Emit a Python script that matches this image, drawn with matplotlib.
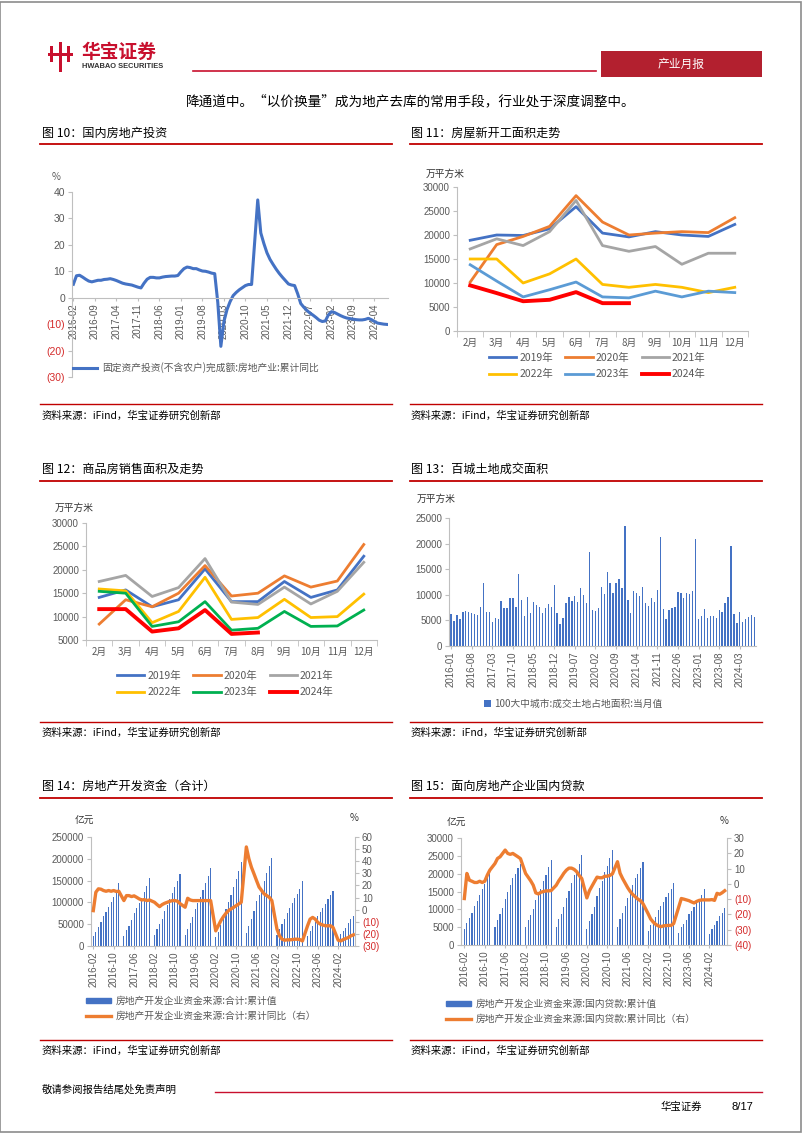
import numpy as np
import matplotlib
matplotlib.use("Agg")
import matplotlib.pyplot as plt
from matplotlib.lines import Line2D
from matplotlib.patches import Rectangle, Patch

plt.rcParams['font.family'] = ['Liberation Sans', 'Noto Sans CJK SC', 'DejaVu Sans']
plt.rcParams['axes.unicode_minus'] = False

W, H = 802, 1133
RED = '#C00000'
NEG = '#D42A2A'
GRAY = '#595959'
AXC = '#BFBFBF'
BLUE = '#4472C4'
ORANGE = '#ED7D31'
CJK = ['Noto Sans CJK SC', 'DejaVu Sans']
nan = np.nan

# ---------------- data ----------------
# fig 10: 2016-02 .. 2024-08 monthly, cumulative yoy %
inv_yoy = [5.1, 8.3, 8.5, 7.8, 7.0, 6.3, 6.0, 6.3, 6.6, 6.6, 6.9,
           7.0, 7.2, 6.9, 6.5, 6.0, 5.5, 5.2, 5.0, 4.8, 4.4, 4.0, 3.7,
           5.5, 7.0, 7.7, 7.7, 7.5, 7.5, 7.8, 8.0, 8.1, 8.2, 8.2, 8.4,
           9.8, 11.0, 11.6, 11.4, 11.0, 11.0, 10.5, 10.1, 10.0, 9.7, 9.3, 9.1,
           -1.8, -18.4, -9.0, -4.5, -1.5, 0.8, 2.0, 3.0, 3.8, 4.6, 5.0, 5.0,
           21.0, 37.0, 24.5, 20.5, 17.0, 14.5, 12.6, 10.8, 9.2, 7.8, 6.5, 5.2,
           4.8, 4.6, 1.5, -2.2, -3.6, -4.8, -5.8, -6.6, -7.5, -8.5, -9.0, -8.8,
           -6.5, -5.3, -5.6, -6.2, -6.8, -7.3, -7.7, -7.9, -8.1, -8.3, -8.4, -8.4,
           -8.2, -7.8, -8.3, -9.0, -9.6, -9.8, -10.0, -10.1]

# fig 11 / 12: months Feb..Dec
month_cats = ['2月', '3月', '4月', '5月', '6月', '7月', '8月', '9月', '10月', '11月', '12月']
year_names = ['2019年', '2020年', '2021年', '2022年', '2023年', '2024年']

starts_2019 = [18900, 20000, 19900, 21300, 25900, 20400, 19600, 20700, 20000, 19700, 22200]
starts_2020 = [10200, 18000, 19700, 21800, 28200, 22700, 20000, 20400, 20700, 20500, 23600]
starts_2021 = [17100, 19200, 17800, 20700, 27200, 17800, 16600, 17600, 13900, 16200, 16200]
starts_2022 = [15000, 15000, 10000, 11900, 15000, 9700, 9100, 9700, 9100, 8000, 9100]
starts_2023 = [13800, 10400, 7100, 8600, 10200, 7100, 6900, 8300, 7100, 8300, 8000]
starts_2024 = [9500, 7900, 6200, 6500, 8100, 5800, 5800]

sales_2019 = [14100, 15700, 12100, 13600, 20200, 13200, 13200, 17500, 14100, 15700, 22900]
sales_2020 = [8400, 13600, 12100, 15000, 20900, 14400, 15000, 18700, 16300, 17600, 25400]
sales_2021 = [17500, 18800, 14300, 16200, 22400, 13100, 12600, 16300, 12700, 15400, 21600]
sales_2022 = [15900, 15500, 8700, 11100, 18400, 9400, 9800, 13700, 9800, 10000, 14800]
sales_2023 = [15400, 15000, 7900, 8900, 13200, 7100, 7500, 11100, 7900, 8000, 11400]
sales_2024 = [11600, 11600, 6800, 7500, 11400, 6300, 6600]

# fig 13: 2016-01 .. 2024-08 monthly land area
land_area = [6200, 4960, 6070, 5290, 6590, 6920, 6720, 6400, 6270, 6070, 7570, 12400,
             6590, 6590, 4760, 5420, 5290, 8810, 7380, 7380, 9330, 9330, 7700, 14100,
             9010, 5870, 9530, 6400, 8680, 8030, 7700, 6400, 7510, 8160, 7700, 11940,
             6460, 4240, 5550, 8350, 9660, 8810, 9790, 8550, 11290, 9990, 8490, 18400,
             7050, 6920, 7510, 11550, 10120, 14490, 12270, 10310, 12270, 13050, 11420, 23370,
             9010, 6400, 10770, 10310, 9860, 11490, 8490, 7830, 9330, 8680, 10970, 21280,
             7180, 5290, 7050, 7380, 7570, 10640, 10440, 9330, 10440, 10120, 10830, 20950,
             5290, 5870, 7180, 5420, 5870, 5870, 5420, 7050, 6720, 8490, 9530, 19580,
             6200, 4570, 6720, 4630, 5290, 5740, 6070, 5740]

# fig 14: 2016-02 .. 2024-08, January not published
fund_total = [23000, 32000, 43000, 54000, 68000, 79000, 90000, 101000, 113000, 126000, 144000,
              nan, 24000, 36000, 47000, 59000, 76000, 87000, 98000, 111000, 124000, 137000, 156000,
              nan, 25000, 38000, 50000, 63000, 81000, 93000, 107000, 121000, 135000, 148000, 166000,
              nan, 25000, 39000, 52000, 67000, 85000, 99000, 113000, 129000, 145000, 160000, 179000,
              nan, 20000, 33000, 49000, 65000, 85000, 102000, 118000, 136000, 154000, 171000, 193000,
              nan, 30000, 47000, 63000, 81000, 103000, 118000, 133000, 150000, 167000, 183000, 201000,
              nan, 25000, 38000, 50000, 61000, 76000, 87000, 98000, 109000, 120000, 131000, 149000,
              nan, 23000, 35000, 45000, 55000, 68000, 78000, 87000, 97000, 107000, 116000, 127000,
              nan, 18000, 27000, 35000, 42000, 52000, 61000, 69000]
fund_yoy = [-0.8, 14.4, 17.2, 16.9, 15.8, 15.2, 15.8, 15.2, 15.8, 15.0, 15.2,
            nan, 7.5, 11.6, 11.6, 10.8, 11.4, 10.2, 8.9, 8.0, 8.3, 7.5, 8.0,
            nan, 6.1, 4.2, 2.5, 4.2, 5.3, 6.1, 6.9, 7.5, 7.5, 7.0, 5.0,
            nan, 2.0, 9.4, 8.0, 7.5, 7.5, 7.5, 7.5, 7.5, 7.5, 7.5, 7.5,
            nan, -17.5, -13.3, -9.1, -5.8, -3.0, -0.8, 0.6, 1.9, 3.3, 4.7, 6.1,
            nan, 51.8, 42.0, 35.0, 29.6, 24.0, 18.6, 15.8, 13.0, 11.6, 10.2, 7.5,
            nan, -16.0, -21.6, -24.4, -25.2, -24.9, -24.9, -24.7, -24.4, -24.4, -24.7, -25.8,
            nan, -13.3, -7.8, -6.4, -7.8, -10.5, -11.9, -12.7, -13.3, -13.3, -13.3, -14.7,
            nan, -25.2, -25.8, -24.7, -23.8, -23.0, -21.6, -20.8]

# fig 15: domestic loans, 2016-02 .. 2024-08
loan_total = [4400, 6200, 7600, 9000, 11000, 12200, 14000, 15800, 17000, 19000, 21300,
              nan, 5000, 7000, 8600, 10500, 13000, 14800, 16800, 18800, 20000, 21500, 22700,
              nan, 5000, 7000, 8500, 10000, 12500, 14000, 15700, 18000, 19600, 21800, 23900,
              nan, 5000, 7200, 8800, 10700, 13200, 15200, 17300, 19600, 20800, 22800, 25100,
              nan, 4400, 6600, 8600, 10600, 13800, 15900, 18000, 20400, 22200, 24300, 26700,
              nan, 5000, 7300, 9000, 10800, 13300, 15000, 16700, 18700, 19900, 21500, 23300,
              nan, 4000, 5600, 6600, 7800, 9800, 10900, 12000, 13500, 14600, 15700, 17300,
              nan, 3500, 5000, 6000, 7000, 8700, 9600, 10600, 11900, 12900, 14100, 15600,
              nan, 3100, 4500, 5500, 6700, 8000, 9100, 10300]
loan_yoy = [-9.6, 6.8, 2.4, 1.7, 0.9, 0.9, 1.7, 0.9, 1.7, 5.7, 9.0,
            nan, 13.3, 16.6, 17.7, 19.9, 22.1, 19.9, 19.3, 19.9, 18.8, 17.7, 16.5,
            nan, 6.8, 4.4, 2.0, -0.9, -5.9, -6.6, -5.5, -5.0, -4.6, -4.6, -4.4,
            nan, -0.9, 2.0, 4.4, 7.0, 9.0, 10.3, 10.3, 9.5, 8.0, 5.5, 3.5,
            nan, -9.2, -4.5, -1.5, 1.5, 4.4, 4.0, 4.0, 5.0, 5.0, 5.5, 6.5,
            nan, 14.5, 7.0, 3.5, 0.5, -2.5, -5.0, -7.0, -8.5, -10.0, -11.0, -13.0,
            nan, -19.5, -23.0, -25.0, -26.5, -27.5, -28.0, -27.5, -27.3, -27.2, -27.2, -26.0,
            nan, -15.1, -9.6, -10.0, -10.5, -11.0, -11.8, -12.5, -11.5, -10.8, -10.5, -10.5,
            nan, -10.5, -10.3, -10.8, -6.2, -6.8, -5.8, -4.5]


def month_labels(y0, m0, y1, m1):
    out = []
    y, m = y0, m0
    while (y, m) <= (y1, m1):
        out.append(f"{y}-{m:02d}")
        m += 1
        if m > 12:
            y, m = y + 1, 1
    return out


months_feb = month_labels(2016, 2, 2024, 8)
months_jan = month_labels(2016, 1, 2024, 8)


# ---------------- helpers ----------------
def fbox(l, t, r, b):
    return [l / W, 1 - b / H, (r - l) / W, (b - t) / H]


def fx(x):
    return x / W


def fy(y):
    return 1 - y / H


def hline(x0, x1, y, color=RED, lw=1.3):
    fig.add_artist(Line2D([fx(x0), fx(x1)], [fy(y), fy(y)], color=color, lw=lw,
                          transform=fig.transFigure))


def rect(x0, y0, x1, y1, color):
    fig.add_artist(Rectangle((fx(x0), fy(y1)), (x1 - x0) / W, (y1 - y0) / H,
                             transform=fig.transFigure, color=color, lw=0))


def ptext(x, y, s, size=7.5, color='black', ha='left', **kw):
    fig.text(fx(x), fy(y), s, fontsize=size, color=color, ha=ha, va='center',
             family=kw.pop('family', CJK), **kw)


def style(ax):
    for s in ['top', 'right']:
        ax.spines[s].set_visible(False)
    for s in ['left', 'bottom']:
        ax.spines[s].set_color(AXC)
        ax.spines[s].set_linewidth(0.8)
    ax.tick_params(colors=AXC, labelcolor=GRAY, labelsize=7, length=3, width=0.8, pad=2)
    ax.set_facecolor('none')


def neg_fmt(v):
    return f"({abs(v):.0f})" if v < 0 else f"{v:.0f}"


def set_pct_ticks(ax, ticks):
    labels = [neg_fmt(v) for v in ticks]
    ax.set_yticks(ticks, labels)
    for lab, v in zip(ax.get_yticklabels(), ticks):
        lab.set_color(NEG if v < 0 else GRAY)


def date_ticks(ax, labels, step):
    pos = np.arange(0, len(labels), step)
    ax.set_xticks(pos, [labels[i] for i in pos], rotation=90)


fig = plt.figure(figsize=(W / 100, H / 100), dpi=100)
fig.patch.set_facecolor('white')

# ---------------- page furniture ----------------
fig.add_artist(Rectangle((0.0005, 0.0005), 0.998, 0.998, fill=False, edgecolor='#8C8C8C',
                         lw=1.2, transform=fig.transFigure))
rect(59, 42, 62, 72, '#C8102E')
rect(48, 53, 73, 56, '#C8102E')
rect(50, 46, 53, 62, '#C8102E')
rect(67, 46, 70, 62, '#C8102E')
ptext(81, 52, '华宝证券', size=13.5, color='#C8102E', weight='bold')
ptext(82, 66, 'HWABAO SECURITIES', size=5.4, color='#333333', weight='bold',
      family=['Liberation Sans'])
hline(193, 596, 71, color='#C8102E', lw=1.2)
rect(601, 51, 762, 77, '#B3202F')
ptext(681, 64, '产业月报', size=8.5, color='white', ha='center')
ptext(411, 101, '降通道中。“以价换量”成为地产去库的常用手段，行业处于深度调整中。', size=9.8,
      ha='center')

titles = [(42, 133, '图 10：国内房地产投资'), (411, 133, '图 11：房屋新开工面积走势'),
          (42, 469, '图 12：商品房销售面积及走势'), (411, 469, '图 13：百城土地成交面积'),
          (42, 786, '图 14：房地产开发资金（合计）'), (411, 786, '图 15：面向房地产企业国内贷款')]
for x, y, t in titles:
    ptext(x, y, t, size=8.7, weight='medium')
for y in [144, 481, 798]:
    hline(40, 392, y)
    hline(410, 762, y)
for y in [404, 722, 1040]:
    hline(40, 392, y, lw=1.0)
    hline(410, 762, y, lw=1.0)
sources = [(42, 416, 'iFind'), (411, 416, 'iFind'), (42, 733, 'iFind'), (411, 733, 'iFnd'),
           (42, 1051, 'iFind'), (411, 1051, 'iFind')]
for x, y, src in sources:
    ptext(x, y, f'资料来源：{src}，华宝证券研究创新部', size=7.5)
ptext(42, 1090, '敬请参阅报告结尾处免责声明', size=7.5)
hline(215, 762, 1092, color='#C8102E', lw=1.0)
ptext(661, 1107, '华宝证券', size=7.5)
ptext(731, 1107, '8/17', size=8, family=['Liberation Sans'])

# ---------------- fig 10 ----------------
ax = fig.add_axes(fbox(72, 192, 388, 377))
style(ax)
x = np.arange(len(inv_yoy))
l10, = ax.plot(x, inv_yoy, color=BLUE, lw=2.2, solid_joinstyle='round')
ax.set_xlim(-0.45, 102.4)
ax.set_ylim(-30, 40)
set_pct_ticks(ax, list(range(-30, 41, 10)))
ax.tick_params(axis='y', labelsize=7.5)
ax.spines['bottom'].set_position(('data', 0))
date_ticks(ax, months_feb, 7)
ax.tick_params(axis='x', length=2)
ax.legend([l10], ['固定资产投资(不含农户)完成额:房地产业:累计同比'], loc='center left',
          bbox_to_anchor=(fx(73), fy(368)), bbox_transform=fig.transFigure, frameon=False,
          handlelength=2.5, handletextpad=0.5, borderpad=0, borderaxespad=0,
          labelcolor=GRAY, prop={'family': CJK, 'size': 7})
ptext(56, 177, '%', size=7, color=GRAY, ha='center')


# ---------------- fig 11 / 12 ----------------
def year_chart(box, series, colors, ylim, leg_xy, unit_xy):
    ax = fig.add_axes(fbox(*box))
    style(ax)
    xc = np.arange(len(month_cats))
    hs = []
    for vals, c in zip(series, colors):
        lw = 2.8 if c == '#FF0000' else 2.0
        h, = ax.plot(xc[:len(vals)], vals, color=c, lw=lw, solid_joinstyle='round')
        hs.append(h)
    ax.set_xlim(-0.5, len(month_cats) - 0.5)
    ax.set_ylim(*ylim)
    ax.set_yticks(np.arange(ylim[0], ylim[1] + 1, 5000))
    ax.set_xticks(xc, month_cats)
    ax.set_xticks(np.arange(-0.5, len(month_cats), 1), minor=True)
    ax.tick_params(axis='x', which='major', length=0, pad=5)
    ax.tick_params(axis='x', which='minor', length=4, color=AXC)
    for lab in ax.get_xticklabels():
        lab.set_family(CJK)
    order = [0, 3, 1, 4, 2, 5]
    ax.legend([hs[i] for i in order], [year_names[i] for i in order], ncol=3,
              loc='upper left', bbox_to_anchor=(fx(leg_xy[0]), fy(leg_xy[1])),
              bbox_transform=fig.transFigure, frameon=False, handlelength=2.6,
              handletextpad=0.3, columnspacing=1.2, labelspacing=0.6, borderpad=0,
              borderaxespad=0, labelcolor=GRAY, prop={'family': CJK, 'size': 7.5})
    ptext(unit_xy[0], unit_xy[1], '万平方米', size=7, color='#333333')
    return ax


year_chart((457, 187, 748, 331),
           [starts_2019, starts_2020, starts_2021, starts_2022, starts_2023, starts_2024],
           [BLUE, ORANGE, '#A5A5A5', '#FFC000', '#5B9BD5', '#FF0000'],
           (0, 30000), (489, 353), (426, 174))
year_chart((86, 523, 377, 640),
           [sales_2019, sales_2020, sales_2021, sales_2022, sales_2023, sales_2024],
           [BLUE, ORANGE, '#A5A5A5', '#FFC000', '#00B050', '#FF0000'],
           (5000, 30000), (117, 671), (55, 508))

# ---------------- fig 13 ----------------
ax = fig.add_axes(fbox(449, 518, 756, 646))
style(ax)
xb = np.arange(len(land_area))
b13 = ax.bar(xb, land_area, width=0.45, color=BLUE, lw=0)
ax.set_xlim(-0.7, 103.5)
ax.set_ylim(0, 25000)
ax.set_yticks(np.arange(0, 25001, 5000))
date_ticks(ax, months_jan, 7)
ax.tick_params(axis='x', length=2)
ax.legend([b13], ['100大中城市:成交土地占地面积:当月值'], loc='center left',
          bbox_to_anchor=(fx(484), fy(704)), bbox_transform=fig.transFigure, frameon=False,
          handlelength=0.75, handleheight=0.75, handletextpad=0.3, borderpad=0,
          borderaxespad=0, labelcolor=GRAY, prop={'family': CJK, 'size': 7})
ptext(417, 499, '万平方米', size=7, color='#333333')


# ---------------- fig 14 / 15 ----------------
def dual_chart(box, bars, yoy, xlim, ylim_l, step_l, ylim_r, labels, leg_xy, unit_xy, pct_xy):
    ax = fig.add_axes(fbox(*box))
    style(ax)
    xb = np.arange(len(bars))
    bvals = np.array(bars, dtype=float)
    ax.bar(xb, np.nan_to_num(bvals), width=0.45, color=BLUE, lw=0)
    ax.set_xlim(*xlim)
    ax.set_ylim(*ylim_l)
    ax.set_yticks(np.arange(ylim_l[0], ylim_l[1] + 1, step_l))
    date_ticks(ax, months_feb, 8)
    ax.tick_params(axis='x', length=2)
    ax2 = ax.twinx()
    for s in ['top', 'left', 'bottom']:
        ax2.spines[s].set_visible(False)
    ax2.spines['right'].set_color(AXC)
    ax2.spines['right'].set_linewidth(0.8)
    ax2.tick_params(colors=AXC, labelsize=7, length=3, width=0.8, pad=2)
    yv = np.array(yoy, dtype=float)
    ok = ~np.isnan(yv)
    lh, = ax2.plot(xb[ok], yv[ok], color=ORANGE, lw=2.4, solid_joinstyle='round')
    ax2.set_ylim(*ylim_r)
    set_pct_ticks(ax2, list(range(ylim_r[0], ylim_r[1] + 1, 10)))
    ax2.set_xlim(*xlim)
    ax2.legend([Patch(color=BLUE), lh], labels, loc='upper left',
               bbox_to_anchor=(fx(leg_xy[0]), fy(leg_xy[1])), bbox_transform=fig.transFigure,
               frameon=False, handlelength=2.6, handleheight=0.55, handletextpad=0.5,
               labelspacing=0.5, borderpad=0, borderaxespad=0, labelcolor=GRAY,
               prop={'family': CJK, 'size': 7})
    ptext(unit_xy[0], unit_xy[1], '亿元', size=7, color='#333333')
    ptext(pct_xy[0], pct_xy[1], '%', size=7, color='#333333')


dual_chart((91, 837, 355, 946), fund_total, fund_yoy, (-0.9, 102.6), (0, 250000), 50000,
           (-30, 60), ['房地产开发企业资金来源:合计:累计值', '房地产开发企业资金来源:合计:累计同比（右）'],
           (86, 996), (75, 821), (350, 818))
dual_chart((461, 838, 727, 945), loan_total, loan_yoy, (-1.3, 102.9), (0, 30000), 5000,
           (-40, 30), ['房地产开发企业资金来源:国内贷款:累计值', '房地产开发企业资金来源:国内贷款:累计同比（右）'],
           (446, 999), (447, 823), (720, 821))

fig.savefig('out.png', dpi=100, facecolor='white')
